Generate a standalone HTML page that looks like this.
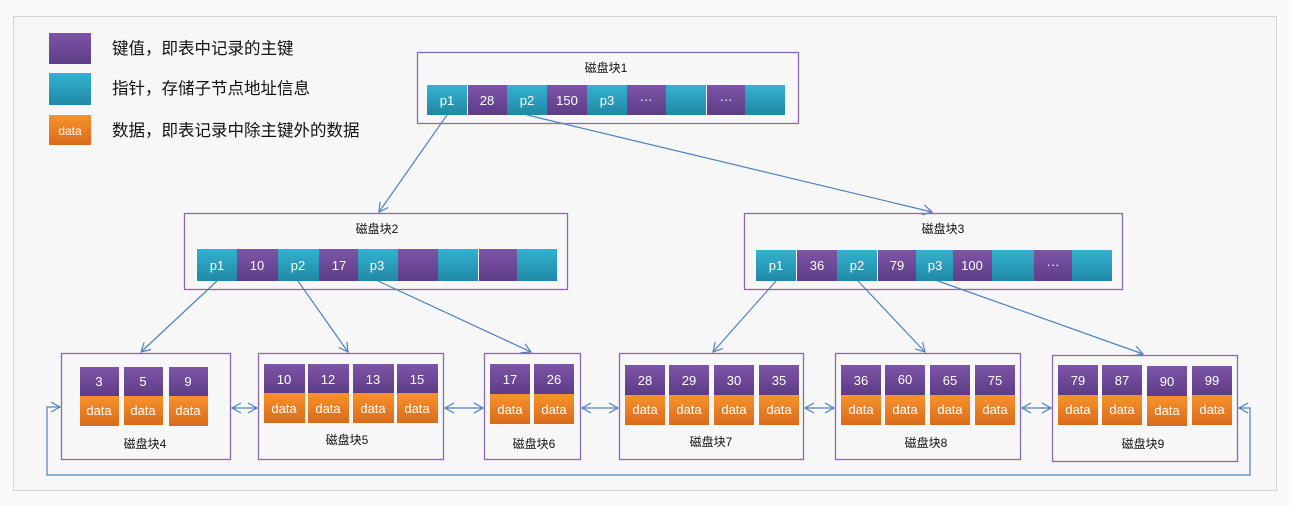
<!DOCTYPE html>
<html><head><meta charset="utf-8"><style>
html,body{margin:0;padding:0;background:#fff;}
svg{display:block;}
text{font-family:"Liberation Sans","Noto Sans CJK SC",sans-serif;}
.w{fill:#fff;font-size:13px;text-anchor:middle;}
.l{fill:#111;font-size:12px;text-anchor:middle;}
.g{fill:#111;font-size:16.5px;}
.n{fill:none;stroke:#8a6ab0;stroke-width:1.3;}
.a{fill:none;stroke:#4f81bd;stroke-width:1.2;}
</style></head><body>
<svg width="1292" height="506" viewBox="0 0 1292 506" xmlns="http://www.w3.org/2000/svg">
<defs>
<linearGradient id="pu" x1="0" y1="0" x2="0" y2="1"><stop offset="0" stop-color="#7e55a8"/><stop offset="1" stop-color="#5d3c86"/></linearGradient>
<linearGradient id="cy" x1="0" y1="0" x2="0" y2="1"><stop offset="0" stop-color="#34b2d2"/><stop offset="1" stop-color="#2088a5"/></linearGradient>
<linearGradient id="or" x1="0" y1="0" x2="0" y2="1"><stop offset="0" stop-color="#f8922c"/><stop offset="1" stop-color="#d86b1b"/></linearGradient>
<marker id="ar" markerWidth="12" markerHeight="12" refX="10" refY="6" orient="auto" markerUnits="userSpaceOnUse"><path d="M1,1 L10,6 L1,11" fill="none" stroke="#4f81bd" stroke-width="1.2"/></marker>
<marker id="as" markerWidth="12" markerHeight="12" refX="2" refY="6" orient="auto" markerUnits="userSpaceOnUse"><path d="M11,1 L2,6 L11,11" fill="none" stroke="#4f81bd" stroke-width="1.2"/></marker>
</defs>
<rect x="0" y="0" width="1292" height="506" fill="#fafafa"/>
<rect x="13.5" y="16.5" width="1263" height="474" fill="#f7f7f7" stroke="#d4d4d4"/>

<rect x="49" y="33" width="42" height="31" fill="url(#pu)"/>
<rect x="49" y="73" width="42" height="32" fill="url(#cy)"/>
<rect x="49" y="115" width="42" height="30" fill="url(#or)"/>
<text x="70" y="135" class="w" style="font-size:12px">data</text>
<text x="112" y="54" class="g">键值，即表中记录的主键</text>
<text x="112" y="94" class="g">指针，存储子节点地址信息</text>
<text x="112" y="136" class="g">数据，即表记录中除主键外的数据</text>

<rect x="417.5" y="52.5" width="381" height="71" class="n"/>
<text x="606" y="72" class="l">磁盘块1</text>
<rect x="427" y="85" width="40" height="30" fill="url(#cy)"/><text x="447" y="105" class="w">p1</text>
<rect x="468" y="85" width="39" height="30" fill="url(#pu)"/><text x="487" y="105" class="w">28</text>
<rect x="507" y="85" width="40" height="30" fill="url(#cy)"/><text x="527" y="105" class="w">p2</text>
<rect x="547" y="85" width="40" height="30" fill="url(#pu)"/><text x="567" y="105" class="w">150</text>
<rect x="587" y="85" width="40" height="30" fill="url(#cy)"/><text x="607" y="105" class="w">p3</text>
<rect x="627" y="85" width="39" height="30" fill="url(#pu)"/><text x="646" y="104" class="w">···</text>
<rect x="666" y="85" width="40" height="30" fill="url(#cy)"/>
<rect x="707" y="85" width="38" height="30" fill="url(#pu)"/><text x="726" y="104" class="w">···</text>
<rect x="745" y="85" width="40" height="30" fill="url(#cy)"/>

<rect x="184.5" y="213.5" width="383" height="76" class="n"/>
<text x="377" y="233" class="l">磁盘块2</text>
<rect x="197" y="249" width="40" height="32" fill="url(#cy)"/><text x="217" y="270" class="w">p1</text>
<rect x="237" y="249" width="41" height="32" fill="url(#pu)"/><text x="257" y="270" class="w">10</text>
<rect x="278" y="249" width="41" height="32" fill="url(#cy)"/><text x="298" y="270" class="w">p2</text>
<rect x="319" y="249" width="39" height="32" fill="url(#pu)"/><text x="339" y="270" class="w">17</text>
<rect x="358" y="249" width="40" height="32" fill="url(#cy)"/><text x="377" y="270" class="w">p3</text>
<rect x="398" y="249" width="40" height="32" fill="url(#pu)"/>
<rect x="438" y="249" width="40" height="32" fill="url(#cy)"/>
<rect x="479" y="249" width="38" height="32" fill="url(#pu)"/>
<rect x="517" y="249" width="40" height="32" fill="url(#cy)"/>

<rect x="744.5" y="213.5" width="378" height="76" class="n"/>
<text x="943" y="233" class="l">磁盘块3</text>
<rect x="756" y="250" width="40" height="31" fill="url(#cy)"/><text x="776" y="270" class="w">p1</text>
<rect x="797" y="250" width="40" height="31" fill="url(#pu)"/><text x="817" y="270" class="w">36</text>
<rect x="837" y="250" width="40" height="31" fill="url(#cy)"/><text x="857" y="270" class="w">p2</text>
<rect x="878" y="250" width="38" height="31" fill="url(#pu)"/><text x="897" y="270" class="w">79</text>
<rect x="916" y="250" width="37" height="31" fill="url(#cy)"/><text x="935" y="270" class="w">p3</text>
<rect x="953" y="250" width="39" height="31" fill="url(#pu)"/><text x="972" y="270" class="w">100</text>
<rect x="992" y="250" width="42" height="31" fill="url(#cy)"/>
<rect x="1034" y="250" width="38" height="31" fill="url(#pu)"/><text x="1053" y="269" class="w">···</text>
<rect x="1072" y="250" width="40" height="31" fill="url(#cy)"/>

<rect x="61.5" y="353.5" width="169" height="106" class="n"/>
<rect x="80" y="367" width="39" height="29" fill="url(#pu)"/><text x="99" y="386" class="w">3</text><rect x="80" y="396" width="39" height="30" fill="url(#or)"/><text x="99" y="415" class="w">data</text>
<rect x="124" y="367" width="39" height="29" fill="url(#pu)"/><text x="143" y="386" class="w">5</text><rect x="124" y="396" width="39" height="29" fill="url(#or)"/><text x="143" y="415" class="w">data</text>
<rect x="169" y="367" width="39" height="29" fill="url(#pu)"/><text x="188" y="386" class="w">9</text><rect x="169" y="396" width="39" height="30" fill="url(#or)"/><text x="188" y="415" class="w">data</text>
<text x="145" y="448" class="l">磁盘块4</text>

<rect x="258.5" y="353.5" width="185" height="106" class="n"/>
<rect x="264" y="364" width="41" height="29" fill="url(#pu)"/><text x="284" y="384" class="w">10</text><rect x="264" y="393" width="41" height="30" fill="url(#or)"/><text x="284" y="413" class="w">data</text>
<rect x="308" y="364" width="41" height="29" fill="url(#pu)"/><text x="328" y="384" class="w">12</text><rect x="308" y="393" width="41" height="30" fill="url(#or)"/><text x="328" y="413" class="w">data</text>
<rect x="353" y="364" width="41" height="29" fill="url(#pu)"/><text x="373" y="384" class="w">13</text><rect x="353" y="393" width="41" height="30" fill="url(#or)"/><text x="373" y="413" class="w">data</text>
<rect x="397" y="364" width="41" height="29" fill="url(#pu)"/><text x="417" y="384" class="w">15</text><rect x="397" y="393" width="41" height="30" fill="url(#or)"/><text x="417" y="413" class="w">data</text>
<text x="347" y="444" class="l">磁盘块5</text>

<rect x="484.5" y="353.5" width="96" height="106" class="n"/>
<rect x="490" y="364" width="40" height="30" fill="url(#pu)"/><text x="510" y="384" class="w">17</text><rect x="490" y="394" width="40" height="30" fill="url(#or)"/><text x="510" y="414" class="w">data</text>
<rect x="534" y="364" width="40" height="30" fill="url(#pu)"/><text x="554" y="384" class="w">26</text><rect x="534" y="394" width="40" height="30" fill="url(#or)"/><text x="554" y="414" class="w">data</text>
<text x="534" y="448" class="l">磁盘块6</text>

<rect x="619.5" y="353.5" width="184" height="106" class="n"/>
<rect x="625" y="365" width="40" height="30" fill="url(#pu)"/><text x="645" y="385" class="w">28</text><rect x="625" y="395" width="40" height="30" fill="url(#or)"/><text x="645" y="414" class="w">data</text>
<rect x="669" y="365" width="40" height="30" fill="url(#pu)"/><text x="689" y="385" class="w">29</text><rect x="669" y="395" width="40" height="30" fill="url(#or)"/><text x="689" y="414" class="w">data</text>
<rect x="714" y="365" width="40" height="30" fill="url(#pu)"/><text x="734" y="385" class="w">30</text><rect x="714" y="395" width="40" height="30" fill="url(#or)"/><text x="734" y="414" class="w">data</text>
<rect x="759" y="365" width="40" height="30" fill="url(#pu)"/><text x="779" y="385" class="w">35</text><rect x="759" y="395" width="40" height="30" fill="url(#or)"/><text x="779" y="414" class="w">data</text>
<text x="711" y="446" class="l">磁盘块7</text>

<rect x="835.5" y="353.5" width="185" height="106" class="n"/>
<rect x="841" y="365" width="40" height="30" fill="url(#pu)"/><text x="861" y="385" class="w">36</text><rect x="841" y="395" width="40" height="30" fill="url(#or)"/><text x="861" y="414" class="w">data</text>
<rect x="885" y="365" width="40" height="30" fill="url(#pu)"/><text x="905" y="384" class="w">60</text><rect x="885" y="395" width="40" height="30" fill="url(#or)"/><text x="905" y="414" class="w">data</text>
<rect x="930" y="365" width="40" height="30" fill="url(#pu)"/><text x="950" y="385" class="w">65</text><rect x="930" y="395" width="40" height="30" fill="url(#or)"/><text x="950" y="414" class="w">data</text>
<rect x="975" y="365" width="40" height="30" fill="url(#pu)"/><text x="995" y="385" class="w">75</text><rect x="975" y="395" width="40" height="30" fill="url(#or)"/><text x="995" y="414" class="w">data</text>
<text x="926" y="447" class="l">磁盘块8</text>

<rect x="1052.5" y="355.5" width="185" height="106" class="n"/>
<rect x="1058" y="365" width="40" height="30" fill="url(#pu)"/><text x="1078" y="385" class="w">79</text><rect x="1058" y="395" width="40" height="30" fill="url(#or)"/><text x="1078" y="414" class="w">data</text>
<rect x="1102" y="365" width="40" height="30" fill="url(#pu)"/><text x="1122" y="385" class="w">87</text><rect x="1102" y="395" width="40" height="30" fill="url(#or)"/><text x="1122" y="414" class="w">data</text>
<rect x="1147" y="366" width="40" height="30" fill="url(#pu)"/><text x="1167" y="386" class="w">90</text><rect x="1147" y="396" width="40" height="30" fill="url(#or)"/><text x="1167" y="415" class="w">data</text>
<rect x="1192" y="366" width="40" height="29" fill="url(#pu)"/><text x="1212" y="385" class="w">99</text><rect x="1192" y="395" width="40" height="30" fill="url(#or)"/><text x="1212" y="414" class="w">data</text>
<text x="1143" y="448" class="l">磁盘块9</text>

<line x1="447" y1="115" x2="379" y2="212" class="a" marker-end="url(#ar)"/>
<line x1="527" y1="115" x2="932" y2="212" class="a" marker-end="url(#ar)"/>
<line x1="217" y1="281" x2="141" y2="352" class="a" marker-end="url(#ar)"/>
<line x1="298" y1="281" x2="348" y2="352" class="a" marker-end="url(#ar)"/>
<line x1="378" y1="281" x2="531" y2="352" class="a" marker-end="url(#ar)"/>
<line x1="776" y1="281" x2="713" y2="352" class="a" marker-end="url(#ar)"/>
<line x1="858" y1="281" x2="925" y2="352" class="a" marker-end="url(#ar)"/>
<line x1="938" y1="281" x2="1143" y2="354" class="a" marker-end="url(#ar)"/>

<line x1="232" y1="408" x2="257" y2="408" class="a" marker-start="url(#as)" marker-end="url(#ar)"/>
<line x1="445" y1="408" x2="483" y2="408" class="a" marker-start="url(#as)" marker-end="url(#ar)"/>
<line x1="582" y1="408" x2="618" y2="408" class="a" marker-start="url(#as)" marker-end="url(#ar)"/>
<line x1="805" y1="408" x2="834" y2="408" class="a" marker-start="url(#as)" marker-end="url(#ar)"/>
<line x1="1022" y1="408" x2="1051" y2="408" class="a" marker-start="url(#as)" marker-end="url(#ar)"/>
<polyline points="1239,408 1250,408 1250,475 47,475 47,407 60,407" class="a" marker-start="url(#as)" marker-end="url(#ar)"/>
</svg>
</body></html>
